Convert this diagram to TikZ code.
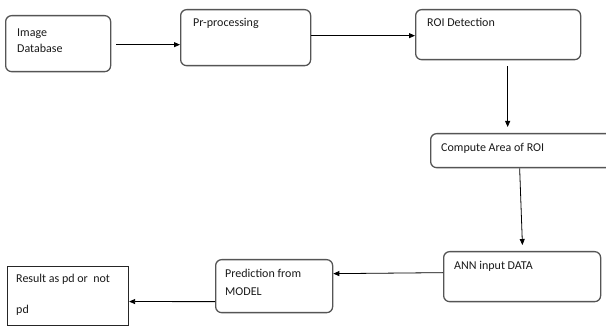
\documentclass[tikz,border=0pt]{standalone}
\usepackage{fontspec}
\setmainfont{Carlito}
\usetikzlibrary{arrows.meta}
\definecolor{boxline}{HTML}{555555}
\definecolor{txtcol}{HTML}{1A1A1A}
\begin{document}
\begin{tikzpicture}[x=1pt,y=-1pt,
  rbox/.style={draw=boxline, line width=1.3pt, rounded corners=6pt, anchor=north west, inner sep=0pt},
  sbox/.style={draw=black!85, line width=1.1pt, anchor=north west, inner sep=0pt},
  lbl/.style={anchor=base west, inner sep=0pt, text=txtcol, font=\fontsize{12}{14}\selectfont},
  flow/.style={draw=black, line width=0.8pt, -{Triangle[length=6pt,width=5pt]}}]
\useasboundingbox (0,0) rectangle (606,326);
\fill[white] (0,0) rectangle (606,326);

% boxes
\node[rbox, minimum width=105pt, minimum height=56pt] (db)   at (5,15)   {};
\node[rbox, minimum width=130pt, minimum height=56pt] (pre)  at (180,9)  {};
\node[rbox, minimum width=165pt, minimum height=50pt] (roi)  at (415,9)  {};
\node[rbox, minimum width=182pt, minimum height=34pt] (area) at (430,133) {};
\node[rbox, minimum width=157pt, minimum height=50pt] (ann)  at (443,251) {};
\node[rbox, minimum width=117pt, minimum height=53pt] (pred) at (215,259) {};
\node[sbox, minimum width=121pt, minimum height=59pt] (res)  at (7,266)  {};

% labels
\node[lbl] (tdb1) at (17,37) {Image};
\node[lbl] (tdb2) at (17,53) {Database};
\node[lbl] (tpre) at (193,27) {Pr-processing};
\node[lbl] (troi) at (427,27) {ROI Detection};
\node[lbl] (tarea) at (441,152) {Compute Area of ROI};
\node[lbl] (tann) at (454,270) {ANN input DATA};
\node[lbl] (tpr1) at (225,278) {Prediction from};
\node[lbl] (tpr2) at (225,295) {MODEL};
\node[lbl] (tres1) at (16,283) {Result as pd or\ \ not};
\node[lbl] (tres2) at (16,313) {pd};

% connectors
\draw[flow, shorten <=5pt] ([yshift=-1pt]db.east) -- ([yshift=-7pt]pre.west);
\draw[flow] ([yshift=2pt]pre.east) -- ([yshift=-1pt]roi.west);
\draw[flow, shorten <=6pt, shorten >=6pt] ([xshift=9.5pt]roi.south) -- ([xshift=-14pt]area.north);
\draw[flow, shorten >=6pt] ([xshift=-2pt]area.south) -- ([xshift=0.5pt]ann.north);
\draw[flow] ([yshift=4pt]ann.west) -- ([yshift=12.5pt]pred.east);
\draw[flow] ([yshift=-15.5pt]pred.west) -- ([yshift=-5.5pt]res.east);
\end{tikzpicture}
\end{document}
